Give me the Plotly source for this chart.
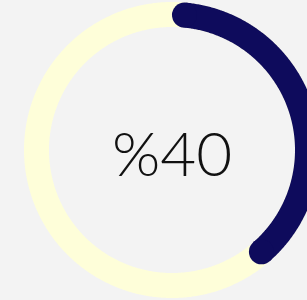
import numpy as np
import plotly.graph_objects as go

# Data
progress_value = [40]          # percent done
progress_label = ["%40"]

W, H = 307, 300
cx, cy = 172, 150     # ring centre in px
ring_r = 135.5        # centerline radius in px
ring_w = 25           # ring thickness in px
navy = "#0e0b5c"
cream = "#fefed9"

cap_deg = np.degrees((ring_w / 2) / ring_r)
end_deg = 360 * progress_value[0] / 100


def ring_xy(theta_deg):
    t = np.radians(theta_deg)
    return ring_r * np.sin(t), ring_r * np.cos(t)


full_x, full_y = ring_xy(np.linspace(0, 360, 721))
arc_x, arc_y = ring_xy(np.linspace(cap_deg, end_deg - cap_deg, 300))

fig = go.Figure()
fig.add_trace(go.Scatter(
    x=full_x, y=full_y, mode="lines",
    line=dict(color=cream, width=ring_w, simplify=False), hoverinfo="skip",
))
fig.add_trace(go.Scatter(
    x=arc_x, y=arc_y, mode="lines",
    line=dict(color=navy, width=ring_w, simplify=False), hoverinfo="skip",
))
fig.add_trace(go.Scatter(
    x=[arc_x[0], arc_x[-1]], y=[arc_y[0], arc_y[-1]], mode="markers",
    marker=dict(color=navy, size=ring_w, line=dict(width=0)), hoverinfo="skip",
))

fig.update_layout(
    width=W, height=H,
    margin=dict(l=0, r=0, t=0, b=0),
    paper_bgcolor="#f3f3f3",
    plot_bgcolor="#f3f3f3",
    showlegend=False,
    hovermode=False,
    xaxis=dict(range=[-cx, W - cx], visible=False, fixedrange=True),
    yaxis=dict(range=[-(H - cy), cy], visible=False, fixedrange=True),
    annotations=[dict(
        text=progress_label[0], x=0, y=-2, xref="x", yref="y",
        showarrow=False, xanchor="center", yanchor="middle",
        font=dict(family="Lato", size=62, color="#111111", weight=300),
    )],
)

fig.write_html("out.html", config={"displayModeBar": False},
               post_script="document.body.style.margin='0';")
